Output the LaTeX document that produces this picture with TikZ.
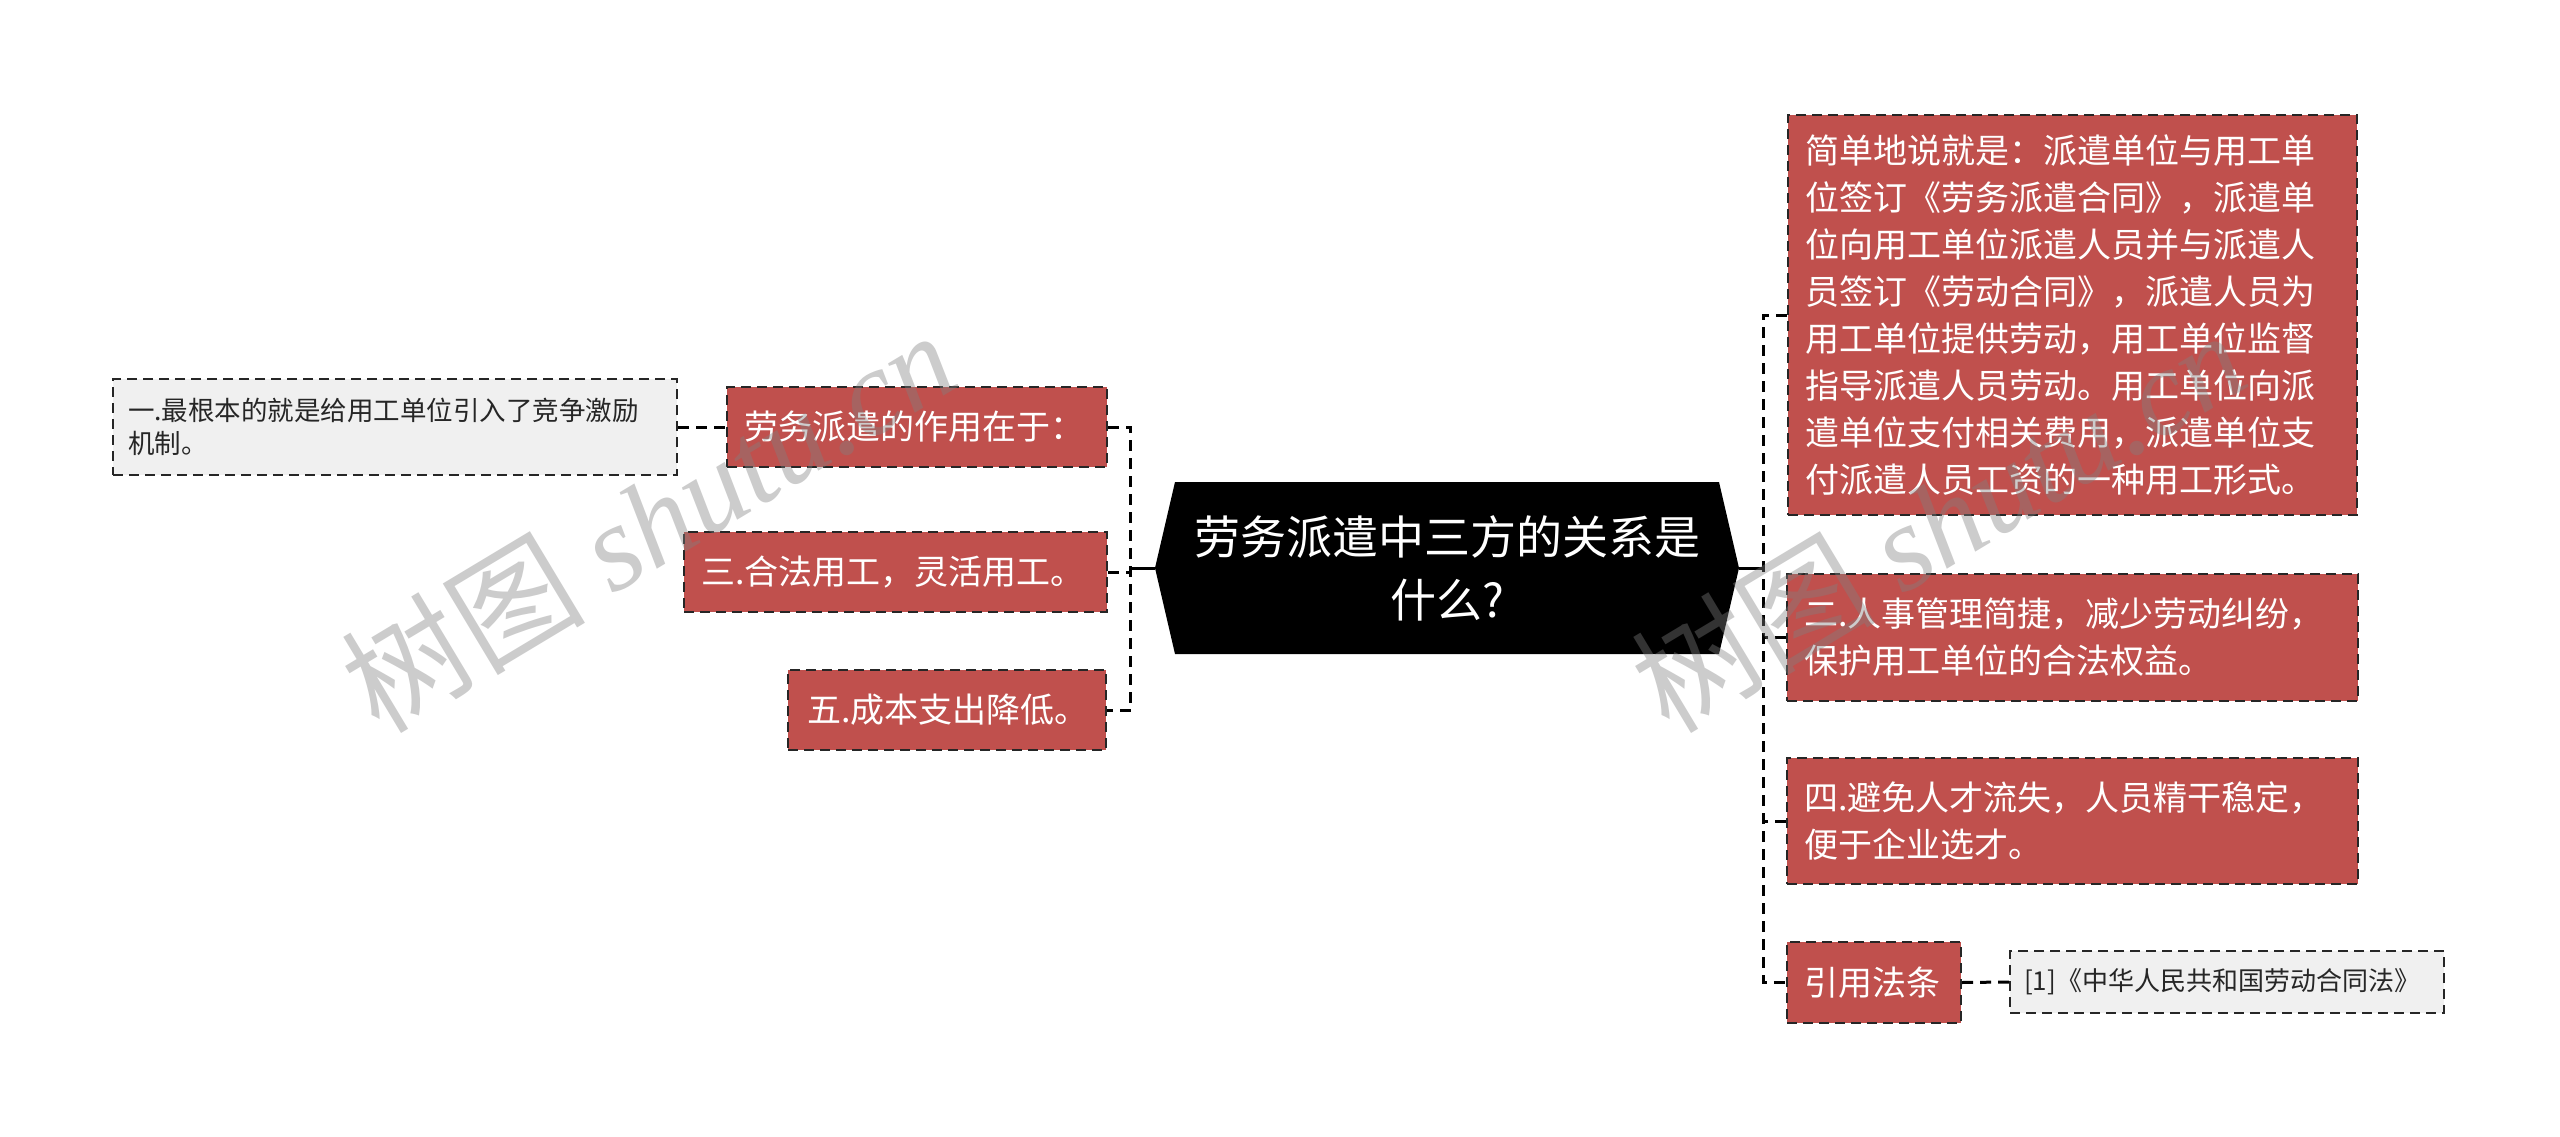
\documentclass[tikz,border=0pt]{standalone}
\usepackage{fontspec}
\setmainfont{Noto Sans CJK SC}
\newfontfamily\wmserif{Liberation Serif}
\usetikzlibrary{calc}
\definecolor{boxred}{HTML}{C0504D}
\definecolor{boxgray}{HTML}{F0F0F0}
\begin{document}
\begin{tikzpicture}[x=1pt,y=-1pt,
  redbox/.style={draw=black!85, dash pattern=on 10pt off 6pt, line width=2pt, fill=boxred, text=white,
    inner xsep=17pt, inner ysep=0pt, align=left, anchor=center, font=\fontsize{34}{47}\selectfont},
  graybox/.style={draw=black!85, dash pattern=on 10pt off 6pt, line width=2pt, fill=boxgray, text=black!85,
    inner xsep=14pt, inner ysep=0pt, align=left, anchor=center},
  conn/.style={draw=black, line width=3pt, dash pattern=on 11pt off 7pt},
  solidconn/.style={draw=black, line width=3pt},
  wm/.style={text=gray, opacity=0.4, rotate=31, anchor=center, inner sep=0pt}
]
\useasboundingbox (0,0) rectangle (2560,1137);
\fill[white] (0,0) rectangle (2560,1137);

% central hexagon
\fill[black] (1155,568) -- (1175,482) -- (1719,482) -- (1739,568) -- (1719,654) -- (1175,654) -- cycle;
\node[minimum width=584pt, minimum height=172pt, inner sep=0pt, text=white, align=center,
  font=\fontsize{46}{63}\selectfont] (c) at (1447,568) {劳务派遣中三方的关系是\\什么?};

% left side
\node[redbox, minimum width=378pt, minimum height=80pt, text width=346pt] (l1) at (917,427) {劳务派遣的作用在于：};
\node[redbox, minimum width=421pt, minimum height=80pt, text width=389pt] (l2) at (895.5,572) {三.合法用工，灵活用工。};
\node[redbox, minimum width=318pt, minimum height=80pt, text width=280pt, inner xsep=19pt] (l3) at (947,710) {五.成本支出降低。};
\node[graybox, minimum width=564pt, minimum height=96pt, text width=534pt, inner xsep=15pt,
  font=\fontsize{26.5}{33}\selectfont] (g1) at (395,427) {一.最根本的就是给用工单位引入了竞争激励\\机制。};

% right side
\node[redbox, minimum width=569pt, minimum height=400pt, text width=535pt] (r1) at (2072.5,315)
  {简单地说就是：派遣单位与用工单\\位签订《劳务派遣合同》，派遣单\\位向用工单位派遣人员并与派遣人\\员签订《劳动合同》，派遣人员为\\用工单位提供劳动，用工单位监督\\指导派遣人员劳动。用工单位向派\\遣单位支付相关费用，派遣单位支\\付派遣人员工资的一种用工形式。};
\node[redbox, minimum width=571pt, minimum height=127pt, text width=537pt] (r2) at (2072.5,637.5)
  {二.人事管理简捷，减少劳动纠纷，\\保护用工单位的合法权益。};
\node[redbox, minimum width=571pt, minimum height=126pt, text width=537pt] (r3) at (2072.5,821)
  {四.避免人才流失，人员精干稳定，\\便于企业选才。};
\node[redbox, minimum width=174pt, minimum height=81pt, text width=140pt] (r4) at (1874,982.5) {引用法条};
\node[graybox, minimum width=434pt, minimum height=62pt, text width=406pt,
  font=\fontsize{26}{32}\selectfont] (g2) at (2227,982) {[1]《中华人民共和国劳动合同法》};

% connectors
\coordinate (lj) at ($(c.west)+(-24,0)$);
\coordinate (rj) at ($(c.east)+(24,0)$);
\draw[solidconn] (c.west) -- (lj);
\draw[solidconn] (c.east) -- (rj);
\draw[conn] (l1.east) -- (l1.east -| lj) -- (l3.east -| lj) -- (l3.east);
\draw[conn] (l2.east) -- (l2.east -| lj);
\draw[conn] (g1.east) -- (l1.west);
\draw[conn] (r1.west) -- (r1.west -| rj) -- (r4.west -| rj) -- (r4.west);
\draw[conn] (r2.west) -- (r2.west -| rj);
\draw[conn] (r3.west) -- (r3.west -| rj);
\draw[conn] (r4.east) -- (g2.west);

% watermarks
\node[wm] (wm1) at (648,520) {\fontsize{122}{122}\selectfont 树图 {\wmserif\itshape shutu.cn}};
\node[wm] (wm2) at (1938,520) {\fontsize{122}{122}\selectfont 树图 {\wmserif\itshape shutu.cn}};
\end{tikzpicture}
\end{document}
